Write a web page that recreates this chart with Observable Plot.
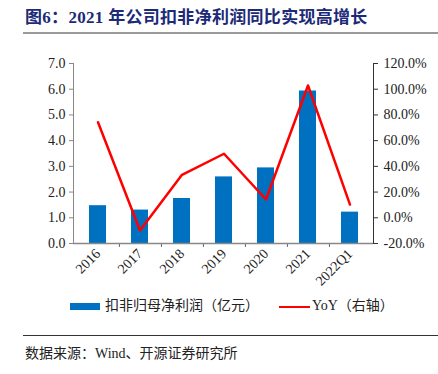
<!DOCTYPE html>
<html><head><meta charset="utf-8">
<script src="https://cdn.jsdelivr.net/npm/d3@7"></script>
<script src="https://cdn.jsdelivr.net/npm/@observablehq/plot@0.6"></script>
<style>
body{margin:0;background:#fff;width:438px;height:374px;position:relative;overflow:hidden;font-family:"Liberation Serif","Noto Sans CJK SC",serif;}
#title{position:absolute;left:25px;top:3px;font-size:17px;font-weight:bold;color:#1c2a78;font-family:"Liberation Serif","Noto Sans CJK SC",serif;white-space:nowrap;letter-spacing:0.3px;}
#tline{position:absolute;left:23px;top:32px;width:415px;height:2px;background:#9a9a9a;}
#chart{position:absolute;left:0;top:40px;}
.leg{position:absolute;top:294px;font-size:14px;color:#222;white-space:nowrap;}
#bline{position:absolute;left:23px;top:335px;width:415px;height:1px;background:#333;}
#src{position:absolute;left:25px;top:342px;font-size:14px;color:#222;white-space:nowrap;}
</style></head>
<body>
<div id="title">图6：2021 年公司扣非净利润同比实现高增长</div>
<div id="tline"></div>
<div id="chart"></div>
<div class="leg" style="left:70px;"><span style="display:inline-block;width:30px;height:7px;background:#0070c0;vertical-align:middle;margin-right:5px;"></span>扣非归母净利润（亿元）</div>
<div class="leg" style="left:279px;"><span style="display:inline-block;width:31px;height:2px;background:#ff0000;vertical-align:middle;margin-right:2px;"></span>YoY（右轴）</div>
<div id="bline"></div>
<div id="src">数据来源：Wind、开源证券研究所</div>
<script>
const categories = ["2016","2017","2018","2019","2020","2021","2022Q1"];
const profit = [1.47, 1.30, 1.75, 2.59, 2.94, 5.93, 1.22];
const yoy = [74.3, -9.9, 33.4, 49.8, 14.2, 102.9, 10.3];
const leftTicks = [0,1,2,3,4,5,6,7];
const rightTicks = [-20,0,20,40,60,80,100,120];

const toLeft = p => (p + 20) / 140 * 7;
const data = categories.map((c,i)=>({cat:c, profit:profit[i], yoyL:toLeft(yoy[i])}));
const W = 438, H = 255, mL = 73, mR = 65;
const step = (W - mL - mR) / categories.length;

const chart = Plot.plot({
  width: W, height: H,
  marginLeft: mL, marginRight: mR, marginTop: 23, marginBottom: 52,
  style: {fontFamily: "Liberation Serif, serif", fontSize: "14px", color: "#222", background: "#fff"},
  x: {domain: categories, paddingInner: 0.6, paddingOuter: 0.3, label: null},
  y: {domain: [0, 7], label: null},
  marks: [
    Plot.barY(data, {x: "cat", y: "profit", fill: "#0070c0"}),
    Plot.lineY(data, {x: "cat", y: "yoyL", stroke: "#ff0000", strokeWidth: 2.5}),
    Plot.axisY(leftTicks, {anchor: "left", tickSize: 4, tickPadding: 4, tickFormat: d => d.toFixed(1), stroke: "#888", label: null}),
    Plot.axisY(rightTicks.map(toLeft), {anchor: "right", tickSize: 4, tickPadding: 6, tickFormat: d => (Math.round(d*20) - 20).toFixed(1) + "%", stroke: "#333", label: null}),
    Plot.axisX(categories, {tickSize: 0, tickRotate: -45, tickPadding: 8, label: null}),
    Plot.axisX(categories.slice(0, -1), {tickSize: 4, dx: step/2, tickFormat: () => "", stroke: "#666", label: null}),
    Plot.frame({anchor: "left", stroke: "#888"}),
    Plot.frame({anchor: "right", stroke: "#333"}),
    Plot.ruleY([0], {stroke: "#888", strokeWidth: 1.5})
  ]
});
document.getElementById("chart").appendChild(chart);
</script>
</body></html>
